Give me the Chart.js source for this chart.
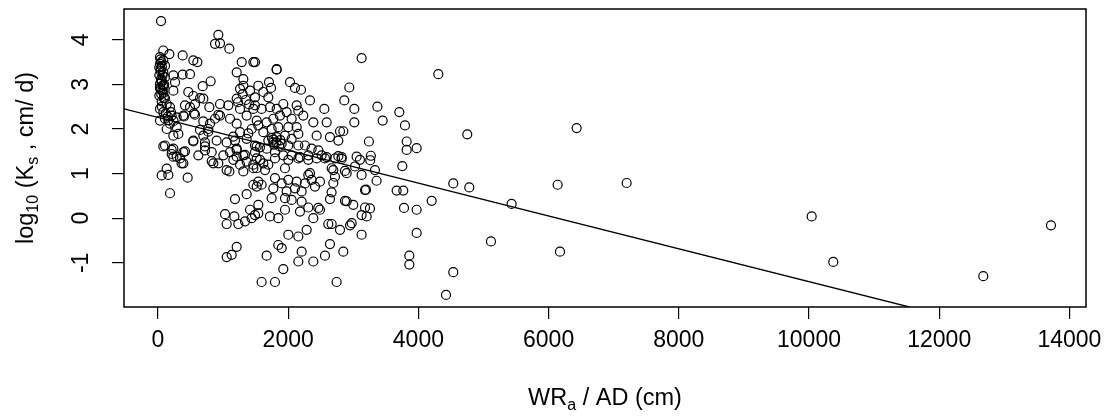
<!DOCTYPE html>
<html>
<head>
    <meta charset="utf-8">
    <title>log10 Ks vs WRa / AD</title>
    <script src="https://cdn.jsdelivr.net/npm/chart.js"></script>
    <style>
        body { margin: 0; background: #fff; }
        #wrap { width: 1109px; height: 419px; }
    </style>
</head>
<body>
    <div id="wrap"><canvas id="ksChart" width="1109" height="419"></canvas></div>
    <script>
        // WRa / AD (cm) of each sample
        const wrX = [
            47, 82, 175, 31, 82, 31, 108, 41, 82, 21, 108, 57,
            31, 92, 41, 82, 21, 108, 57, 134, 31, 185, 82, 210,
            108, 287, 31, 185, 287, 134, 236, 313, 108, 236, 210, 390,
            50, 60, 40, 70, 45, 55, 75, 30, 65, 50, 90, 40,
            20, 95, 60, 120, 150, 160, 240, 200,
            927, 876, 953, 1096, 379, 543, 605, 236, 379, 492, 262, 236,
            809, 687, 466, 543, 646, 697, 569, 492, 415, 789, 953, 1081,
            927, 390, 553, 799, 773, 697, 876, 953, 543, 722, 901, 1055,
            1183, 1286, 1465, 1209, 1311, 1209, 1260, 1311, 1414, 1490, 1260, 1362,
            1465, 1516, 1106, 1209, 1260, 1362, 1439, 1490, 1209, 1311, 1106, 1004,
            825, 722, 620, 82, 210, 287, 363, 415, 542, 722, 645, 773,
            696, 568, 399, 1157, 1387, 1515, 1771, 1336, 1208, 850, 1096, 1311,
            1464, 1618, 1208, 1300, 1350, 1230, 1400,
            236, 338, 390, 134, 57, 159, 456, 185, 825, 927, 1055, 1158,
            1260, 1362, 1465, 1516, 1183, 1362, 1465, 1516, 1030, 1055, 1173, 1234,
            1337, 1439, 1490, 1209, 1132, 1055, 1413, 1541,
            1490, 1823, 1823, 3128, 1705, 1736, 2028, 2104, 2197, 2335, 2555, 2939,
            2862, 3016, 3016, 3370, 2796, 2847, 3240, 3270, 2386, 2591, 2437, 2642,
            2770, 2770, 2821, 1541, 1618, 1695, 1490, 1592, 1720, 1823, 1925, 1976,
            2130, 2156, 2232, 2053, 1874, 1772, 1669, 1541, 1618, 1746, 1848, 2002,
            2130, 2156, 2053, 1951, 1823, 1695, 1772, 1900, 2002, 2156, 2258, 2360,
            2463, 2514, 2591, 1567, 1490, 1669, 1797, 1925, 2053, 2181, 2309, 1780,
            1820, 1860, 1750, 1880,
            1592, 1797, 2744, 1925, 1669, 2386, 2207, 2156, 2565, 2847, 2642, 1848,
            1900, 2002, 2156, 2284, 3128, 2796, 2616, 2668, 2950, 2976, 3128, 2386,
            2488, 2309, 2181, 1951, 1848, 1720, 3180, 3000, 2872, 3180, 1541, 1746,
            1951, 2053, 2207, 1772, 1976, 2104, 2207, 2412, 2360, 2258, 2130, 2002,
            1900, 1797, 1592, 1541, 1951, 1644, 1516, 1695, 1567, 1797, 2002, 2156,
            2309, 2437, 2565, 2719, 2821, 2309, 2668, 2872, 3026, 3128, 2719, 2335,
            2488, 2463, 2667, 2642, 2693, 2898, 2693, 3051, 3102,
            3260, 3333, 3358, 3195, 3256, 2898, 3205, 3753, 3666, 3768, 4536, 4782,
            4204, 3779, 3973, 3973, 3861, 3861, 4536, 4424, 5115, 5432, 6139, 7199,
            6431, 4751, 6175, 4306, 3451, 3707, 3794, 3820, 3820, 3973,
            10041, 10373, 12677, 13717
        ];
        // log10(Ks, cm/d), same order as wrX
        const logKs = [
            4.42, 3.76, 3.68, 3.61, 3.54, 3.46, 3.42, 3.35, 3.27, 3.21, 3.16, 3.09,
            3.01, 2.96, 2.89, 2.81, 2.75, 2.69, 2.62, 2.56, 2.45, 2.49, 2.38, 2.30,
            2.23, 2.26, 2.19, 2.12, 2.04, 2.00, 1.85, 1.89, 1.63, 1.56, 1.44, 1.48,
            3.50, 3.40, 3.30, 3.20, 3.12, 3.05, 2.98, 2.92, 2.86, 2.78, 2.70, 3.56,
            3.38, 3.00, 2.50, 2.35, 2.28, 2.20, 2.18, 2.38,
            4.11, 3.91, 3.92, 3.80, 3.65, 3.54, 3.50, 3.20, 3.22, 3.23, 3.05, 2.86,
            3.07, 2.96, 2.83, 2.74, 2.69, 2.68, 2.56, 2.49, 2.53, 2.49, 2.56, 2.53,
            2.32, 2.30, 2.35, 2.12, 2.00, 1.85, 2.23, 2.30, 1.74, 1.70, 1.74, 1.70,
            1.74, 3.50, 3.50, 3.27, 3.12, 2.68, 2.90, 2.97, 2.86, 2.71, 2.45, 2.30,
            2.45, 2.19, 2.23, 2.12, 1.93, 1.78, 2.00, 1.63, 1.56, 1.41, 1.48, 1.41,
            1.48, 1.52, 1.41, 1.61, 1.53, 1.38, 1.23, 1.50, 1.72, 1.61, 1.98, 1.94,
            2.17, 2.32, 2.28, 1.83, 1.90, 1.61, 1.76, 1.42, 1.53, 1.23, 1.05, 1.05,
            1.20, 1.23, 1.38, 2.78, 2.65, 2.60, 2.55,
            1.38, 1.34, 1.23, 1.11, 0.96, 0.97, 0.91, 0.56, 1.28, 1.23, 1.08, 1.31,
            1.20, 1.27, 1.12, 1.34, 0.43, 0.54, 0.75, 0.71, 0.09, -0.13, 0.04, -0.13,
            -0.07, 0.00, 0.07, -0.64, -0.82, -0.87, 0.19, 0.11,
            3.50, 3.33, 3.34, 3.59, 3.05, 2.92, 3.05, 2.92, 2.88, 2.64, 2.45, 2.93,
            2.64, 2.45, 2.15, 2.50, 1.95, 1.95, 1.72, 1.40, 2.15, 2.15, 1.85, 1.82,
            1.74, 1.39, 1.37, 2.97, 2.83, 2.71, 2.53, 2.45, 2.49, 2.45, 2.56, 2.38,
            2.53, 2.41, 2.30, 2.23, 2.30, 2.23, 2.15, 2.08, 1.93, 2.00, 2.04, 2.04,
            2.04, 1.89, 1.78, 1.85, 1.82, 1.74, 1.70, 1.67, 1.63, 1.63, 1.63, 1.56,
            1.52, 1.41, 1.37, 1.59, 1.48, 1.56, 1.48, 1.41, 1.41, 1.37, 1.41, 1.65,
            1.70, 1.62, 1.80, 1.75,
            -1.43, -1.43, -1.43, -1.14, -0.84, -0.97, -0.75, -0.97, -0.84, -0.75, -0.58, -0.60,
            -0.67, -0.37, -0.41, -0.26, -0.37, -0.26, -0.13, -0.13, -0.16, -0.11, 0.07, 0.00,
            0.19, 0.24, 0.15, 0.19, 0.00, 0.04, 0.24, 0.30, 0.39, 0.63, 0.30, 0.45,
            0.45, 0.41, 0.37, 0.67, 0.60, 0.67, 0.60, 0.71, 0.86, 0.78, 0.82, 0.86,
            0.78, 0.90, 0.75, 0.82, 1.12, 1.08, 1.12, 1.20, 1.31, 1.34, 1.31, 1.34,
            1.31, 1.34, 1.34, 1.34, 1.33, 0.97, 1.12, 1.06, 1.16, 0.97, 0.93, 1.01,
            0.82, 0.23, 0.58, 0.43, 0.79, 1.01, 1.08, 1.38, 1.31,
            1.30, 1.08, 0.84, 0.64, 0.22, 0.38, 0.04, 1.17, 0.62, 0.62, 0.78, 0.69,
            0.39, 0.23, 0.19, -0.33, -0.84, -1.04, -1.21, -1.72, -0.52, 0.32, 0.75, 0.79,
            2.02, 1.88, -0.75, 3.23, 2.19, 2.38, 2.08, 1.72, 1.53, 1.57,
            0.04, -0.98, -1.30, -0.16
        ];

        // fitted line, end points
        const fitX = [-522, 11540];
        const fitY = [2.45, -1.99];

        const xTicks = [0, 2000, 4000, 6000, 8000, 10000, 12000, 14000];
        const yTicks = [-1, 0, 1, 2, 3, 4];

        // [text, isSubscript]
        const xTitleParts = [['WR', false], ['a', true], [' / AD (cm)', false]];
        const yTitleParts = [['log', false], ['10', true], [' (K', false], ['s', true], [' , cm/ d)', false]];

        const FONT = 'Liberation Sans, Arial, sans-serif';

        function drawParts(ctx, parts, cx, cy, rot) {
            ctx.save();
            ctx.translate(cx, cy);
            ctx.rotate(rot);
            ctx.fillStyle = '#000';
            ctx.textBaseline = 'alphabetic';
            ctx.textAlign = 'left';
            let total = 0;
            parts.forEach(p => {
                ctx.font = (p[1] ? 16 : 23.5) + 'px ' + FONT;
                total += ctx.measureText(p[0]).width;
            });
            let x = -total / 2;
            parts.forEach(p => {
                ctx.font = (p[1] ? 16 : 23.5) + 'px ' + FONT;
                ctx.fillText(p[0], x, p[1] ? 5 : 0);
                x += ctx.measureText(p[0]).width;
            });
            ctx.restore();
        }

        const framePlugin = {
            id: 'frame',
            afterDraw(chart) {
                const { ctx, chartArea: a } = chart;
                ctx.save();
                ctx.strokeStyle = '#000';
                ctx.lineWidth = 1.5;
                ctx.strokeRect(a.left, a.top, a.right - a.left, a.bottom - a.top);
                ctx.restore();
                drawParts(ctx, xTitleParts, (a.left + a.right) / 2, 405, 0);
                drawParts(ctx, yTitleParts, 33, (a.top + a.bottom) / 2, -Math.PI / 2);
            }
        };

        const points = wrX.map((x, i) => ({ x: x, y: logKs[i] }));
        const fitLine = fitX.map((x, i) => ({ x: x, y: fitY[i] }));

        new Chart(document.getElementById('ksChart'), {
            type: 'scatter',
            data: {
                datasets: [
                    {
                        data: points,
                        pointStyle: 'circle',
                        pointRadius: 4.5,
                        borderWidth: 1.2,
                        borderColor: '#000',
                        backgroundColor: 'rgba(0,0,0,0)'
                    },
                    {
                        data: fitLine,
                        showLine: true,
                        pointRadius: 0,
                        borderWidth: 1.3,
                        borderColor: '#000',
                        fill: false
                    }
                ]
            },
            options: {
                responsive: false,
                animation: false,
                events: [],
                layout: { padding: { top: 9, right: 23, left: 0, bottom: 0 } },
                plugins: {
                    legend: { display: false },
                    tooltip: { enabled: false }
                },
                scales: {
                    x: {
                        type: 'linear',
                        min: -522,
                        max: 14255,
                        afterBuildTicks: s => { s.ticks = xTicks.map(v => ({ value: v })); },
                        afterFit: s => { s.height = 112; s.paddingLeft = 0; s.paddingRight = 0; },
                        border: { display: false },
                        grid: { drawOnChartArea: false, tickLength: 12, color: '#000', lineWidth: 1.2 },
                        ticks: {
                            font: { family: FONT, size: 23 },
                            color: '#000',
                            padding: 8,
                            maxRotation: 0,
                            autoSkip: false,
                            callback: v => String(v)
                        }
                    },
                    y: {
                        type: 'linear',
                        min: -1.99,
                        max: 4.69,
                        afterBuildTicks: s => { s.ticks = yTicks.map(v => ({ value: v })); },
                        afterFit: s => { s.width = 124; s.paddingTop = 0; s.paddingBottom = 0; },
                        border: { display: false },
                        grid: { drawOnChartArea: false, tickLength: 12, color: '#000', lineWidth: 1.2 },
                        ticks: {
                            font: { family: FONT, size: 23 },
                            color: '#000',
                            padding: 20,
                            minRotation: 90,
                            maxRotation: 90,
                            crossAlign: 'center',
                            autoSkip: false,
                            callback: v => String(v)
                        }
                    }
                }
            },
            plugins: [framePlugin]
        });
    </script>
</body>
</html>
